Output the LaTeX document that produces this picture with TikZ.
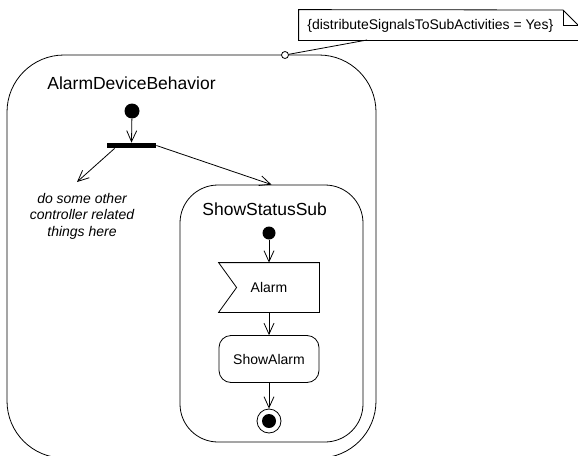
\documentclass[tikz,border=0pt]{standalone}
\usepackage{fontspec}
\setmainfont{Liberation Sans}
\usetikzlibrary{arrows.meta,calc}
\begin{document}
\begin{tikzpicture}[x=1pt,y=-1pt,line width=0.8pt,
  arr/.style={-{Straight Barb[length=11pt,width=10pt]}},
  region/.style={draw,rectangle,inner sep=0pt},
  title/.style={font=\fontsize{17.5}{21}\selectfont,anchor=west,inner sep=0pt},
  small/.style={font=\fontsize{14}{16.5}\selectfont,inner sep=0pt},
  dot/.style={circle,fill=black,inner sep=0pt,minimum size=#1},
  action/.style={draw,rectangle,rounded corners=12pt,minimum width=100pt,minimum height=47pt,inner sep=0pt,font=\fontsize{14}{16}\selectfont}]
\useasboundingbox (0,0) rectangle (578,455);
\clip (0,0) rectangle (578,455);
% outer activity region
\node[region,rounded corners=57pt,minimum width=369pt,minimum height=403pt] (outer) at (191.5,256.5) {};
\node[title] (outerlbl) at (47,83) {AlarmDeviceBehavior};
% note
\node[small,minimum width=280pt,minimum height=30pt] (note) at (439,25) {};
\node[small,anchor=west] (notetxt) at (307,26) {\{distributeSignalsToSubActivities = Yes\}};
\draw (note.north west) -- (563,10) -- (579,26) -- (note.south east) -- (note.south west) -- cycle;
\draw (563,10) -- (563,25) -- (579,25);
\node[circle,draw,fill=white,inner sep=0pt,minimum size=7pt] (pin) at (285,55) {};
\coordinate (nb) at (367,40);
\draw (pin) -- (nb);
% initial and fork
\node[dot=15pt] (init1) at (132,111) {};
\node[rectangle,fill=black,inner sep=0pt,minimum width=49pt,minimum height=5pt] (fork) at (131.5,145.5) {};
\draw[arr] (init1) -- (fork.north);
\node[small,align=center,font=\fontsize{14}{16.5}\selectfont\itshape] (other) at (82,216) {do some other\\controller related\\things here};
\coordinate (ot) at (77,182);
\draw[arr] ([xshift=8pt]fork.south west) -- (ot);
% inner region
\node[region,rounded corners=38pt,minimum width=183pt,minimum height=257pt] (inner) at (271.5,313.5) {};
\node[title] (innerlbl) at (202,209) {ShowStatusSub};
\draw[arr] (fork.east) -- (inner.north);
\node[dot=13pt] (init2) at (269,233) {};
\node[rectangle,minimum width=100pt,minimum height=49pt,inner sep=0pt,font=\fontsize{14}{16}\selectfont] (alarm) at (269,287.5) {Alarm};
\draw (alarm.north west) -- (alarm.north east) -- (alarm.south east) -- (alarm.south west) -- ([xshift=18pt]alarm.west) -- cycle;
\node[action] (show) at (269,359) {ShowAlarm};
\node[circle,draw,inner sep=0pt,minimum size=24pt] (final) at (269,421) {};
\node[dot=14pt] (finaldot) at (final.center) {};
\draw[arr] (init2) -- (alarm.north);
\draw[arr] (alarm.south) -- (show.north);
\draw[arr] (show.south) -- (final.north);
\end{tikzpicture}
\end{document}
